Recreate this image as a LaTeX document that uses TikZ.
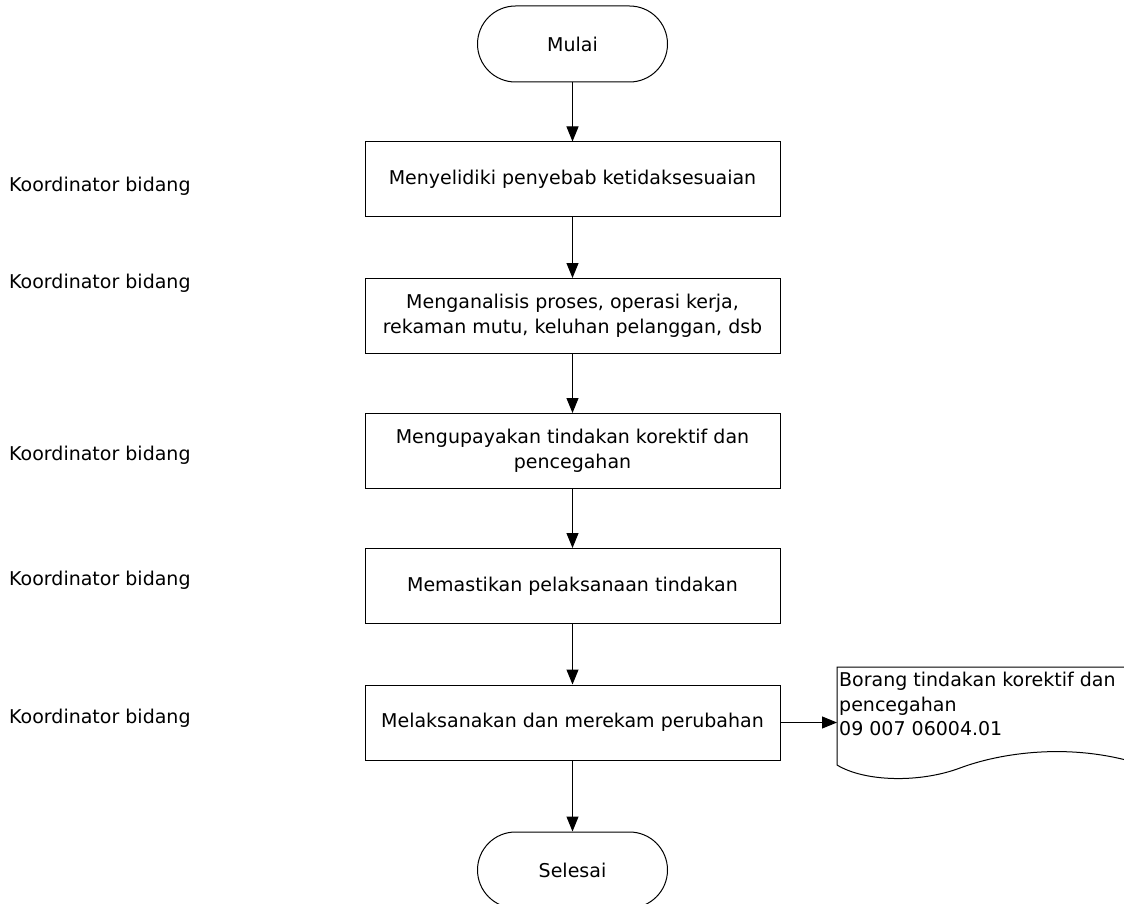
\documentclass[tikz,border=0pt]{standalone}
\usepackage{fontspec}
\setmainfont{DejaVu Sans}
\usetikzlibrary{arrows.meta}
\begin{document}
\begin{tikzpicture}[x=1pt,y=-1pt,
  every node/.style={font=\fontsize{19}{24.5}\selectfont},
  proc/.style={draw=black, line width=1pt, minimum width=415pt, minimum height=75pt, align=center, inner sep=0pt, fill=white},
  term/.style={draw=black, line width=1pt, minimum width=190pt, minimum height=76pt, rounded corners=38pt, inner sep=0pt},
  flow/.style={line width=1pt, -{Triangle[length=15pt,width=12pt]}},
  role/.style={anchor=west, inner sep=0pt}]
\useasboundingbox (0,0) rectangle (1124,904);
\clip (0,0) rectangle (1124,904);
\fill[white] (0,0) rectangle (1124,904);
\node[term] (mulai) at (572.5,44) {Mulai};
\node[proc] (b1) at (572.5,179.5) {Menyelidiki penyebab ketidaksesuaian};
\node[proc] (b2) at (572.5,316) {Menganalisis proses, operasi kerja,\\rekaman mutu, keluhan pelanggan, dsb};
\node[proc] (b3) at (572.5,451) {Mengupayakan tindakan korektif dan\\pencegahan};
\node[proc] (b4) at (572.5,586) {Memastikan pelaksanaan tindakan};
\node[proc] (b5) at (572.5,722.5) {Melaksanakan dan merekam perubahan};
\node[term] (selesai) at (572.5,870) {Selesai};
\node[role] (l1) at (9,186) {Koordinator bidang};
\node[role] (l2) at (9,283) {Koordinator bidang};
\node[role] (l3) at (9,455) {Koordinator bidang};
\node[role] (l4) at (9,580) {Koordinator bidang};
\node[role] (l5) at (9,718) {Koordinator bidang};
% document shape
\draw[line width=1pt] (1140,667) -- (837,667) -- (837,765)
  .. controls (865,782) and (920,783) .. (960,768)
  .. controls (1000,753) and (1070,742) .. (1140,764);
\node[anchor=north west, align=left, inner sep=0pt] (doc) at (839,672) {Borang tindakan korektif dan\\pencegahan\\09 007 06004.01};
\coordinate (docin) at (837,722.5);
\draw[flow] (mulai) -- (b1);
\draw[flow] (b1) -- (b2);
\draw[flow] (b2) -- (b3);
\draw[flow] (b3) -- (b4);
\draw[flow] (b4) -- (b5);
\draw[flow] (b5) -- (selesai);
\draw[flow] (b5.east) -- (docin);
\end{tikzpicture}
\end{document}
